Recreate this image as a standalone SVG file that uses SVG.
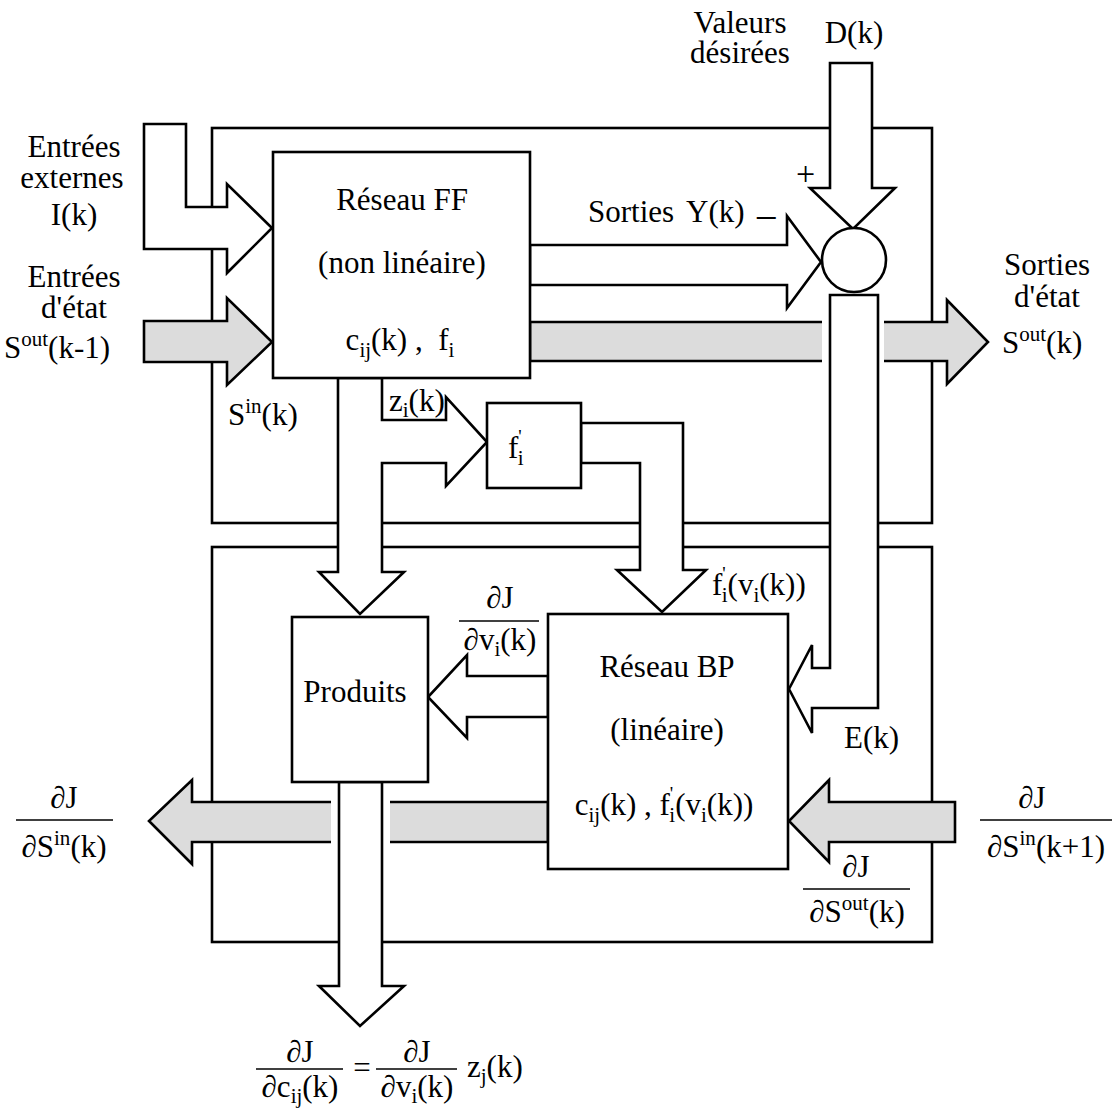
<svg xmlns="http://www.w3.org/2000/svg" width="1117" height="1108" viewBox="0 0 1117 1108">
<style>
.w{fill:#fff;stroke:#000;stroke-width:2.6;stroke-linejoin:miter}
.g{fill:#dcdcdc;stroke:#000;stroke-width:2.6;stroke-linejoin:miter}
.b{fill:none;stroke:#000;stroke-width:2.6}
.fl{stroke:#000;stroke-width:1.6}
text{font-family:"Liberation Serif","Times New Roman",serif;font-size:31px;fill:#000}
.m{text-anchor:middle}
.s{font-size:21px}
.p{font-size:19px}
</style>
<g id="frames">
<rect id="ff-section" class="b" x="212" y="128" width="720" height="395"/>
<rect id="bp-section" class="b" x="212" y="547" width="720" height="395"/>
</g>
<g id="connectors">
<polygon class="w" points="144,124 186,124 186,207 227,207 227,184 272,228 227,273 227,249 144,249"/>
<polygon class="g" points="144,321 227,321 227,298 272,342 227,385 227,362 144,362"/>
<polygon class="w" points="530,245 787,245 787,216 821,262 787,308 787,285 530,285"/>
<polygon class="w" points="830,63 872,63 872,188 895,188 853,229 810,188 830,188"/>
<polygon class="g" points="530,322 947,322 947,300 988,342 947,384 947,361 530,361"/>
<rect x="822" y="320" width="62" height="43" fill="#fff"/>
<polygon class="w" points="830,295 878,295 878,708 812,708 812,733 789,689 812,645 812,668 830,668"/>
<polygon class="w" points="338,378 382,378 382,420 446,420 446,397 487,442 446,486 446,463 382,463 382,572 404,572 360,614 319,572 338,572"/>
<polygon class="w" points="581,423 683,423 683,570 706,570 662,612 617,570 640,570 640,463 581,463"/>
<polygon class="w" points="548,676 467,676 467,655 428,697 467,738 467,717 548,717"/>
<polygon class="g" points="548,802 192,802 192,780 149,821 192,864 192,842 548,842"/>
<rect x="331" y="800" width="59" height="44" fill="#fff"/>
<polygon class="g" points="955,802 829,802 829,780 789,821 829,862 829,842 955,842"/>
<polygon class="w" points="339,782 382,782 382,986 404,986 360,1026 319,986 339,986"/>
</g>
<g id="node-ff">
<rect class="w" x="273" y="152" width="257" height="226"/>
<text class="m" x="402" y="210">Réseau FF</text>
<text class="m" x="402" y="273">(non linéaire)</text>
<text class="m" x="400" y="350">c<tspan class="s" dy="7">ij</tspan><tspan dy="-7">(k)&#160;,&#160;&#160;f</tspan><tspan class="s" dy="7">i</tspan></text>
</g>
<g id="node-fprime">
<rect class="w" x="487" y="403" width="94" height="85"/>
<text x="508" y="458">f<tspan class="p" dy="-15">'</tspan><tspan class="s" dx="-4" dy="22">i</tspan></text>
</g>
<g id="node-sum">
<circle class="w" cx="854" cy="260" r="32"/>
</g>
<g id="node-produits">
<rect class="w" x="292" y="617" width="136" height="165"/>
<text class="m" x="355" y="702">Produits</text>
</g>
<g id="node-bp">
<rect class="w" x="548" y="614" width="240" height="255"/>
<text class="m" x="667" y="677">Réseau BP</text>
<text class="m" x="667" y="740">(linéaire)</text>
<text class="m" x="664" y="815">c<tspan class="s" dy="7">ij</tspan><tspan dy="-7">(k) , f</tspan><tspan class="p" dy="-15">'</tspan><tspan class="s" dx="-4" dy="22">i</tspan><tspan dy="-7">(v</tspan><tspan class="s" dy="7">i</tspan><tspan dy="-7">(k))</tspan></text>
</g>
<g id="labels">
<text class="m" x="740" y="33">Valeurs</text>
<text class="m" x="740" y="63">désirées</text>
<text class="m" x="854" y="43">D(k)</text>
<text class="m" x="74" y="157">Entrées</text>
<text class="m" x="72" y="188">externes</text>
<text class="m" x="74" y="225">I(k)</text>
<text class="m" x="74" y="287">Entrées</text>
<text class="m" x="74" y="318">d'état</text>
<text x="4" y="358">S<tspan class="s" dy="-12">out</tspan><tspan dy="12">(k-1)</tspan></text>
<text x="588" y="222">Sorties</text>
<text x="686" y="222">Y(k)</text>
<text x="757" y="227" style="font-size:37px">–</text>
<text x="796" y="185" style="font-size:34px">+</text>
<text class="m" x="1047" y="275">Sorties</text>
<text class="m" x="1047" y="307">d'état</text>
<text x="1002" y="353">S<tspan class="s" dy="-12">out</tspan><tspan dy="12">(k)</tspan></text>
<text x="228" y="425">S<tspan class="s" dy="-12">in</tspan><tspan dy="12">(k)</tspan></text>
<text x="389" y="411">z<tspan class="s" dy="6">i</tspan><tspan dy="-6">(k)</tspan></text>
<text x="712" y="595">f<tspan class="p" dy="-15">'</tspan><tspan class="s" dx="-4" dy="22">i</tspan><tspan dy="-7">(v</tspan><tspan class="s" dy="7">i</tspan><tspan dy="-7">(k))</tspan></text>
<text class="m" x="500" y="608">∂J</text>
<line class="fl" x1="459" y1="621" x2="539" y2="621"/>
<text class="m" x="500" y="650">∂v<tspan class="s" dy="6">i</tspan><tspan dy="-6">(k)</tspan></text>
<text x="844" y="748">E(k)</text>
<text class="m" x="1032" y="808">∂J</text>
<line class="fl" x1="980" y1="820" x2="1112" y2="820"/>
<text class="m" x="1046" y="857">∂S<tspan class="s" dy="-12">in</tspan><tspan dy="12">(k+1)</tspan></text>
<text class="m" x="856" y="877">∂J</text>
<line class="fl" x1="803" y1="889" x2="910" y2="889"/>
<text class="m" x="857" y="922">∂S<tspan class="s" dy="-12">out</tspan><tspan dy="12">(k)</tspan></text>
<text class="m" x="64" y="808">∂J</text>
<line class="fl" x1="16" y1="820" x2="113" y2="820"/>
<text class="m" x="64" y="857">∂S<tspan class="s" dy="-12">in</tspan><tspan dy="12">(k)</tspan></text>
<text class="m" x="300" y="1062">∂J</text>
<line class="fl" x1="256" y1="1069" x2="343" y2="1069"/>
<text class="m" x="300" y="1097">∂c<tspan class="s" dy="6">ij</tspan><tspan dy="-6">(k)</tspan></text>
<text class="m" x="362" y="1078">=</text>
<text class="m" x="417" y="1062">∂J</text>
<line class="fl" x1="376" y1="1069" x2="457" y2="1069"/>
<text class="m" x="417" y="1097">∂v<tspan class="s" dy="6">i</tspan><tspan dy="-6">(k)</tspan></text>
<text x="467" y="1077">z<tspan class="s" dy="6">j</tspan><tspan dy="-6">(k)</tspan></text>
</g>
</svg>
